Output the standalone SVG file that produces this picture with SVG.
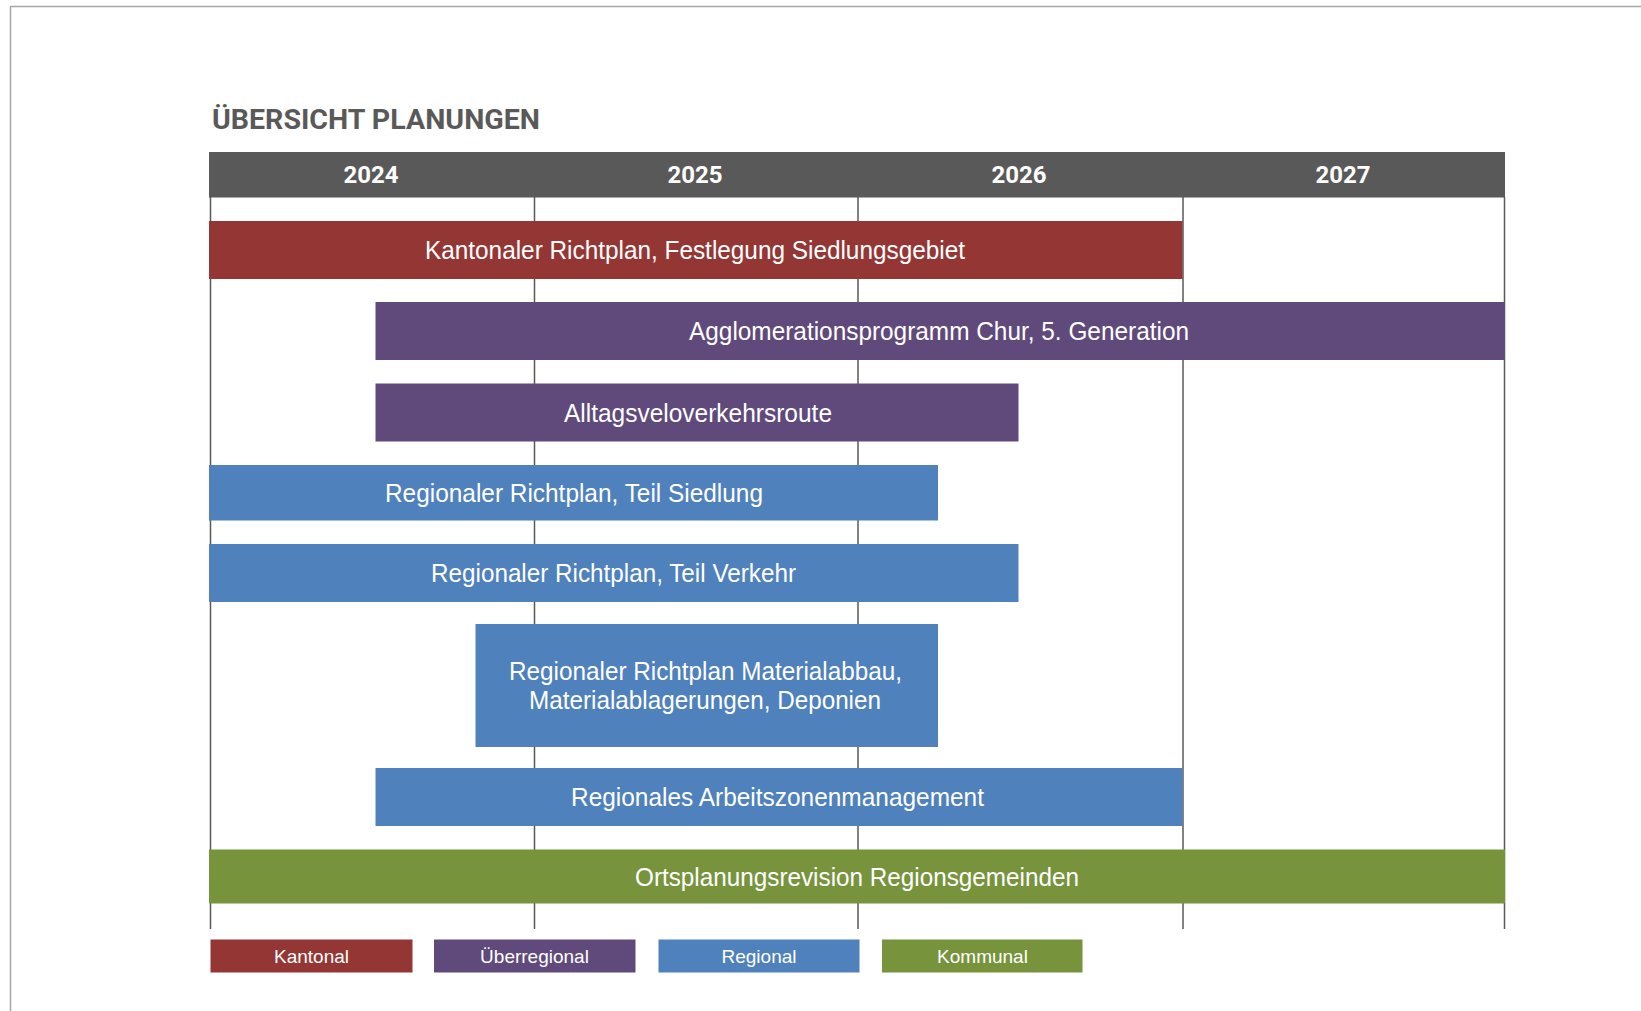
<svg xmlns="http://www.w3.org/2000/svg" width="1641" height="1011" viewBox="0 0 1641 1011">
  <style>
    .frame { stroke: #a6a6a6; stroke-width: 1.5; fill: none; }
    .grid { stroke: #595959; stroke-width: 1.5; }
    .title { font-family: Roboto, "Liberation Sans", sans-serif; font-weight: bold; font-size: 27px; fill: #595959; }
    .year { font-family: Roboto, "Liberation Sans", sans-serif; font-weight: bold; font-size: 24px; fill: #ffffff; text-anchor: middle; }
    .bar-text { font-family: "Liberation Sans", Arial, sans-serif; font-size: 25.5px; fill: #ffffff; text-anchor: middle; }
    .leg-text { font-family: "Liberation Sans", Arial, sans-serif; font-size: 19px; fill: #ffffff; text-anchor: middle; }
    .kantonal { fill: #943634; }
    .ueberregional { fill: #604a7b; }
    .regional { fill: #4f81bd; }
    .kommunal { fill: #77933c; }
    .header { fill: #595959; }
  </style>
  <rect x="0" y="0" width="1641" height="1011" fill="#ffffff"/>
  <g id="frame">
    <line class="frame" x1="10" y1="6.5" x2="1641" y2="6.5"/>
    <line class="frame" x1="10.5" y1="6" x2="10.5" y2="1011"/>
  </g>
  <g id="title">
    <text class="title" x="212" y="129" textLength="328" lengthAdjust="spacingAndGlyphs">ÜBERSICHT PLANUNGEN</text>
  </g>
  <g id="header">
    <rect class="header" x="209" y="152" width="1296" height="45.5"/>
    <text class="year" x="371" y="183">2024</text>
    <text class="year" x="695" y="183">2025</text>
    <text class="year" x="1019" y="183">2026</text>
    <text class="year" x="1343" y="183">2027</text>
  </g>
  <g id="gridlines">
    <line class="grid" x1="210.5" y1="197" x2="210.5" y2="929"/>
    <line class="grid" x1="534.5" y1="197" x2="534.5" y2="929"/>
    <line class="grid" x1="858" y1="197" x2="858" y2="929"/>
    <line class="grid" x1="1183" y1="197" x2="1183" y2="929"/>
    <line class="grid" x1="1504.5" y1="197" x2="1504.5" y2="929"/>
  </g>
  <g id="connectors"></g>
  <g id="bar-kantonaler-richtplan">
    <rect class="kantonal" x="209" y="221" width="973.5" height="58"/>
    <text class="bar-text" x="695" y="259" textLength="540" lengthAdjust="spacingAndGlyphs">Kantonaler Richtplan, Festlegung Siedlungsgebiet</text>
  </g>
  <g id="bar-agglomerationsprogramm">
    <rect class="ueberregional" x="375.5" y="302" width="1129.5" height="58"/>
    <text class="bar-text" x="939" y="340" textLength="500" lengthAdjust="spacingAndGlyphs">Agglomerationsprogramm Chur, 5. Generation</text>
  </g>
  <g id="bar-alltagsveloverkehrsroute">
    <rect class="ueberregional" x="375.5" y="383.5" width="643" height="58"/>
    <text class="bar-text" x="698" y="421.5" textLength="268" lengthAdjust="spacingAndGlyphs">Alltagsveloverkehrsroute</text>
  </g>
  <g id="bar-teil-siedlung">
    <rect class="regional" x="209" y="465" width="729" height="55.5"/>
    <text class="bar-text" x="574" y="502" textLength="378" lengthAdjust="spacingAndGlyphs">Regionaler Richtplan, Teil Siedlung</text>
  </g>
  <g id="bar-teil-verkehr">
    <rect class="regional" x="209" y="544" width="809.5" height="58"/>
    <text class="bar-text" x="613.5" y="582" textLength="365" lengthAdjust="spacingAndGlyphs">Regionaler Richtplan, Teil Verkehr</text>
  </g>
  <g id="bar-materialabbau">
    <rect class="regional" x="475.5" y="624" width="462.5" height="123"/>
    <text class="bar-text" x="705.5" y="680" textLength="393" lengthAdjust="spacingAndGlyphs">Regionaler Richtplan Materialabbau,</text>
    <text class="bar-text" x="705" y="709" textLength="352" lengthAdjust="spacingAndGlyphs">Materialablagerungen, Deponien</text>
  </g>
  <g id="bar-arbeitszonenmanagement">
    <rect class="regional" x="375.5" y="768" width="807" height="58"/>
    <text class="bar-text" x="777.5" y="806" textLength="413" lengthAdjust="spacingAndGlyphs">Regionales Arbeitszonenmanagement</text>
  </g>
  <g id="bar-ortsplanungsrevision">
    <rect class="kommunal" x="209" y="849.5" width="1296" height="54"/>
    <text class="bar-text" x="857" y="885.5" textLength="444" lengthAdjust="spacingAndGlyphs">Ortsplanungsrevision Regionsgemeinden</text>
  </g>
  <g id="legend-kantonal">
    <rect class="kantonal" x="210.5" y="939.5" width="202" height="33"/>
    <text class="leg-text" x="311.5" y="963">Kantonal</text>
  </g>
  <g id="legend-ueberregional">
    <rect class="ueberregional" x="434" y="939.5" width="201.5" height="33"/>
    <text class="leg-text" x="534.5" y="963">Überregional</text>
  </g>
  <g id="legend-regional">
    <rect class="regional" x="658.5" y="939.5" width="201" height="33"/>
    <text class="leg-text" x="759" y="963">Regional</text>
  </g>
  <g id="legend-kommunal">
    <rect class="kommunal" x="882" y="939.5" width="200.5" height="33"/>
    <text class="leg-text" x="982.5" y="963">Kommunal</text>
  </g>
</svg>
